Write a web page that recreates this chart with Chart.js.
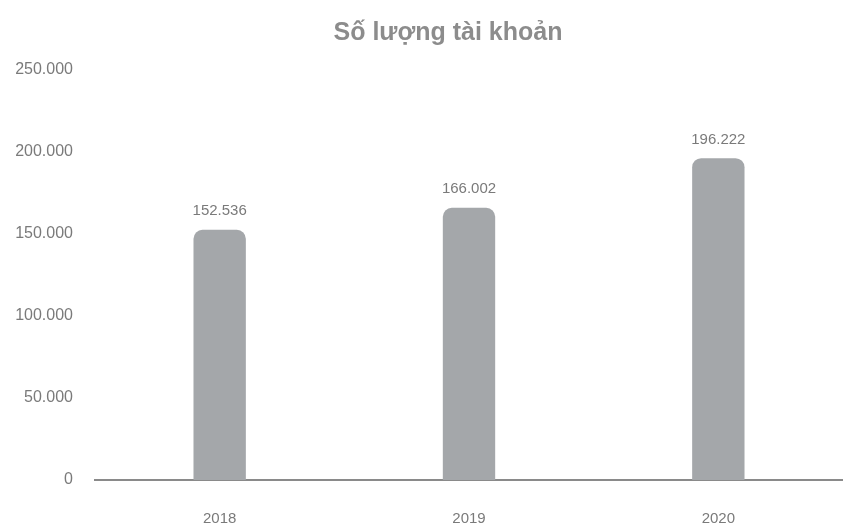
<!DOCTYPE html>
<html>
<head>
<meta charset="utf-8">
<script src="https://cdn.jsdelivr.net/npm/chart.js@4"></script>
<style>
html,body{margin:0;padding:0;background:#fff;}
#wrap{width:843px;height:526px;}
</style>
</head>
<body>
<div id="wrap"><canvas id="myChart" width="843" height="526"></canvas></div>
<script>
var chartTitle = "Số lượng tài khoản";
var years = ["2018", "2019", "2020"];
var accounts = [152536, 166002, 196222];
var yTicks = [0, 50000, 100000, 150000, 200000, 250000];

function fmt(v){
    return v.toString().replace(/\B(?=(\d{3})+(?!\d))/g, ".");
}

// tieu de + so tren dinh cot
var drawTexts = {
    id: 'drawTexts',
    afterDatasetsDraw: function(chart){
        var ctx = chart.ctx;
        var meta = chart.getDatasetMeta(0);
        ctx.save();
        ctx.fillStyle = "#7a7a7a";
        ctx.font = "15px 'Liberation Sans', Arial, sans-serif";
        ctx.textAlign = "center";
        ctx.textBaseline = "bottom";
        for(var i=0;i<meta.data.length;i++){
            var bar = meta.data[i];
            ctx.fillText(fmt(accounts[i]), bar.x, bar.y - 11);
        }
        ctx.fillStyle = "#8c8c8c";
        ctx.font = "bold 25px 'Liberation Sans', Arial, sans-serif";
        ctx.textBaseline = "middle";
        ctx.fillText(chartTitle, 448, 33);
        ctx.restore();
    }
};

var ctx = document.getElementById("myChart");
var myChart = new Chart(ctx, {
    type: 'bar',
    data: {
        labels: years,
        datasets: [{
            label: chartTitle,
            data: accounts,
            backgroundColor: "#a4a7aa",
            borderRadius: {topLeft: 9, topRight: 9, bottomLeft: 0, bottomRight: 0},
            borderSkipped: false,
            barPercentage: 0.21,
            categoryPercentage: 1
        }]
    },
    options: {
        responsive: false,
        animation: false,
        layout: {padding: {left: 0, right: 0, top: 70, bottom: 0}},
        plugins: {
            legend: {display: false},
            tooltip: {enabled: false},
            title: {display: false}
        },
        scales: {
            x: {
                grid: {display: false, drawTicks: false},
                border: {display: true, color: "#8a8a8a", width: 2},
                ticks: {color: "#7a7a7a", padding: 30, font: {family: "'Liberation Sans', Arial, sans-serif", size: 15}},
                afterFit: function(s){ s.height = 46; }
            },
            y: {
                min: 0,
                max: 250000,
                grid: {display: false, drawTicks: false},
                border: {display: false},
                afterBuildTicks: function(s){ s.ticks = yTicks.map(function(v){ return {value: v}; }); },
                ticks: {
                    color: "#7a7a7a",
                    padding: 22,
                    font: {family: "'Liberation Sans', Arial, sans-serif", size: 16},
                    callback: function(v){ return fmt(v); }
                },
                afterFit: function(s){ s.width = 95; }
            }
        }
    },
    plugins: [drawTexts]
});
</script>
</body>
</html>
